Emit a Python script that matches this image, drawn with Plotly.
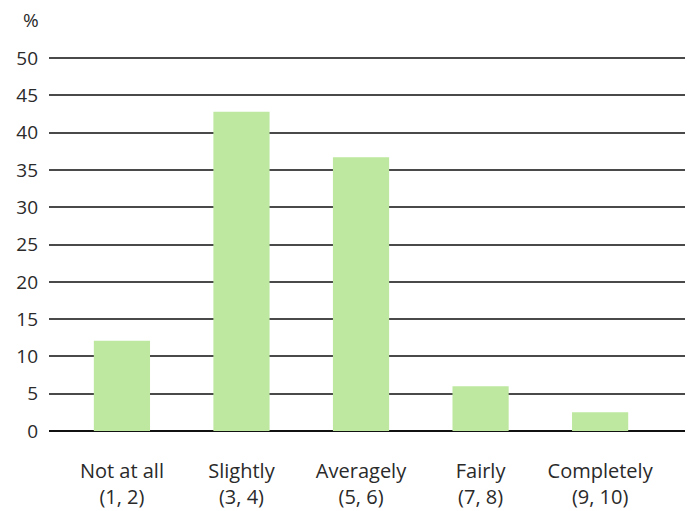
import plotly.graph_objects as go

# Response categories (two-line labels) and share of respondents, %
categories = ["Not at all<br>(1, 2)", "Slightly<br>(3, 4)", "Averagely<br>(5, 6)",
              "Fairly<br>(7, 8)", "Completely<br>(9, 10)"]
values = [12.1, 42.8, 36.7, 6.0, 2.5]
y_ticks = [0, 5, 10, 15, 20, 25, 30, 35, 40, 45, 50]

FONT = "'Open Sans', sans-serif"
TEXT = "#2a2a2a"

fig = go.Figure(
    go.Bar(
        x=categories,
        y=values,
        width=0.47,
        marker=dict(color="#bee8a0", line=dict(width=0)),
        hoverinfo="x+y",
    )
)

fig.update_layout(
    width=692,
    height=511,
    margin=dict(l=49, r=7, t=57, b=80),
    paper_bgcolor="white",
    plot_bgcolor="white",
    showlegend=False,
    font=dict(family=FONT, size=19, color=TEXT),
    bargap=0.5,
)

fig.update_xaxes(
    type="category",
    range=[-0.61, 4.71],
    automargin=False,
    showgrid=False,
    showline=False,
    ticks="",
    ticklabelstandoff=26,
    tickfont=dict(family=FONT, size=20, color=TEXT, weight=400),
)

fig.update_yaxes(
    range=[0, 50.15],
    tickvals=y_ticks,
    automargin=False,
    showgrid=True,
    gridcolor="#4a4a4a",
    gridwidth=1.5,
    zeroline=True,
    zerolinecolor="#111111",
    zerolinewidth=2,
    showline=False,
    ticks="",
    ticklabelstandoff=10,
    tickfont=dict(family=FONT, size=19, color=TEXT, weight=400),
)

fig.add_annotation(
    text="%",
    xref="paper", yref="paper",
    x=-0.028, y=1.0,
    xanchor="center", yanchor="bottom",
    yshift=22,
    showarrow=False,
    font=dict(family=FONT, size=19, color=TEXT, weight=400),
)

fig.write_html("out.html")
